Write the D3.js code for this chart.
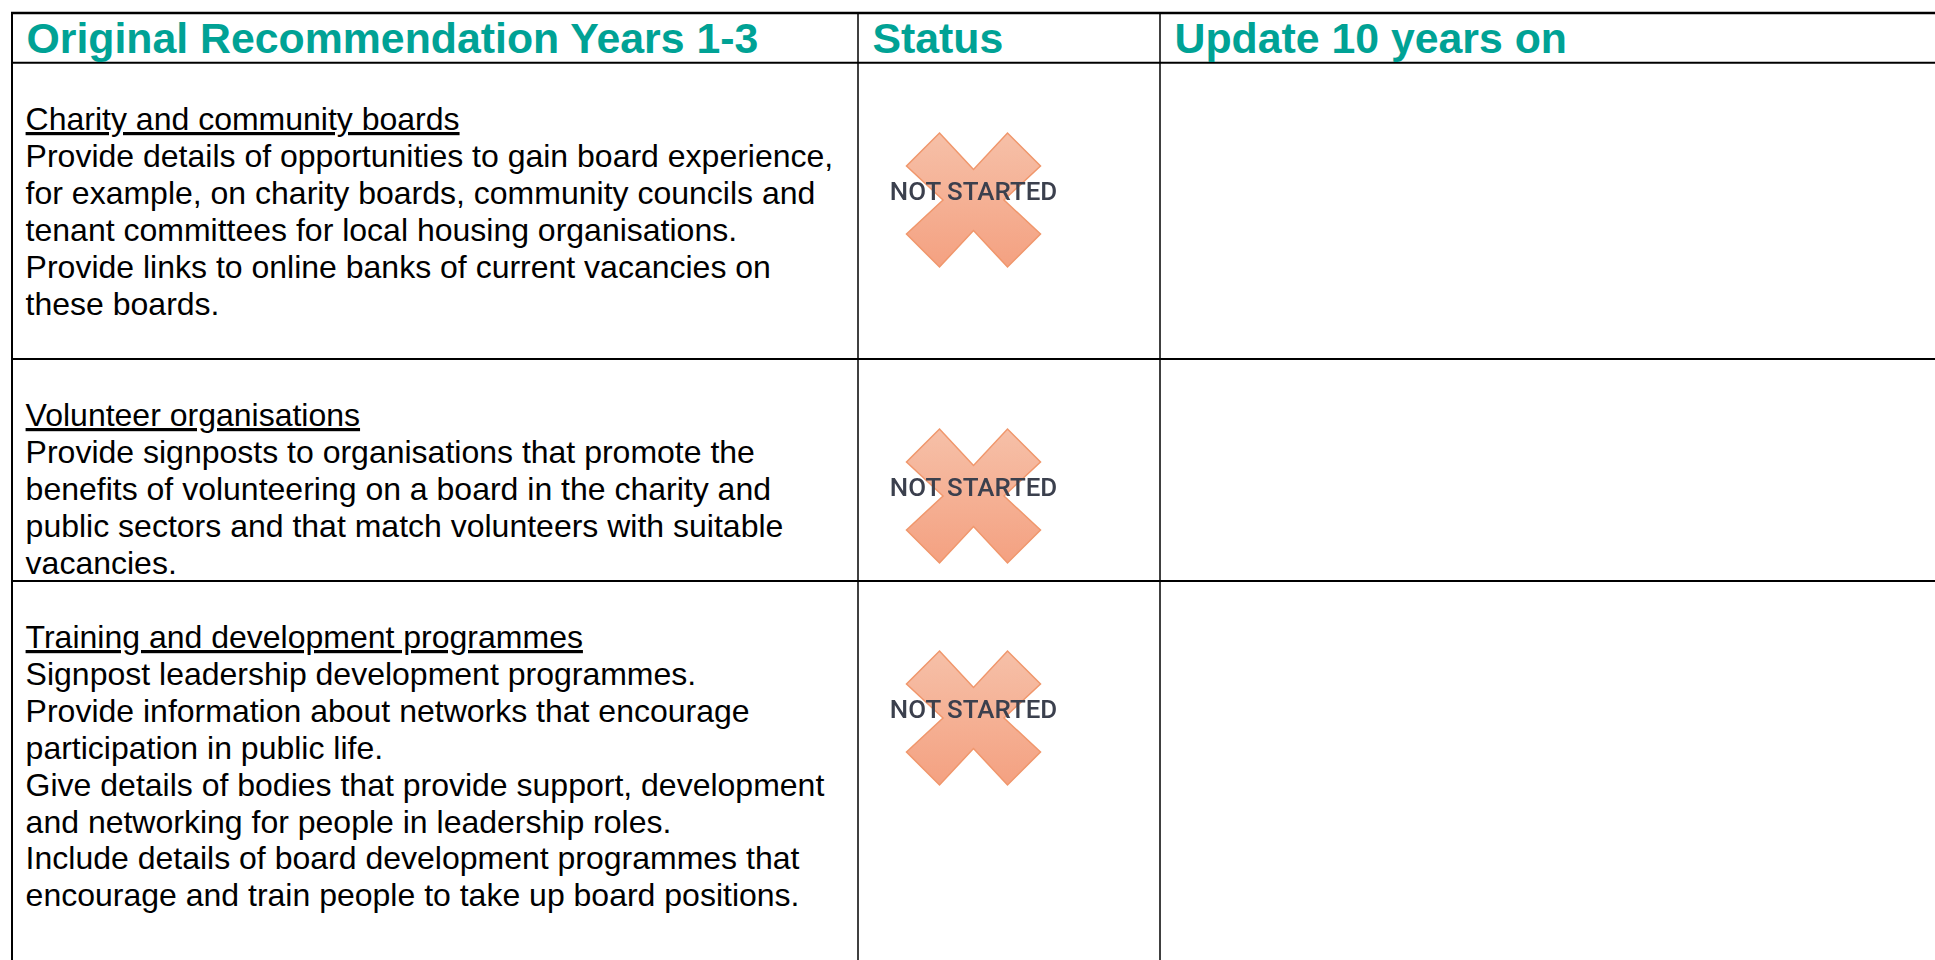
<!DOCTYPE html>
<html>
<head>
<meta charset="utf-8">
<script src="https://cdn.jsdelivr.net/npm/d3@7"></script>
<style>
body { margin: 0; background: #fff; }
svg { display: block; }
text { text-decoration-skip-ink: none; }
</style>
</head>
<body>
<div id="table_chart"></div>
<script>
const columns = ["Original Recommendation Years 1-3", "Status", "Update 10 years on"];
const rowTitles = ["Charity and community boards", "Volunteer organisations", "Training and development programmes"];
const rowLines = [
    ["Provide details of opportunities to gain board experience,",
     "for example, on charity boards, community councils and",
     "tenant committees for local housing organisations.",
     "Provide links to online banks of current vacancies on",
     "these boards."],
    ["Provide signposts to organisations that promote the",
     "benefits of volunteering on a board in the charity and",
     "public sectors and that match volunteers with suitable",
     "vacancies."],
    ["Signpost leadership development programmes.",
     "Provide information about networks that encourage",
     "participation in public life.",
     "Give details of bodies that provide support, development",
     "and networking for people in leadership roles.",
     "Include details of board development programmes that",
     "encourage and train people to take up board positions."]
];
const rowStatus = ["NOT STARTED", "NOT STARTED", "NOT STARTED"];

// layout
var width = 1935, height = 960;
var headTop = 13;
var lineHeight = 36.9;
var crossR = 67, crossIn = 30.5, crossEnd = 34;
var font = "'Liberation Sans', Arial, sans-serif";

var colX = d3.scaleOrdinal().domain(columns).range([12, 858, 1160]);
var rowY = d3.scaleOrdinal().domain(rowTitles).range([62.7, 359, 581]);
var titleBase = d3.scaleOrdinal().domain(rowTitles).range([130, 426, 648]);
var crossY = d3.scaleOrdinal().domain(rowTitles).range([200, 496, 718]);

var svg = d3.select("#table_chart")
    .append("svg")
    .attr("width", width)
    .attr("height", height);

var defs = svg.append("defs");
var grad = defs.append("linearGradient")
    .attr("id", "cross_fill")
    .attr("x1", 0).attr("y1", 0).attr("x2", 0).attr("y2", 1);
grad.append("stop").attr("offset", "0%").attr("stop-color", "#f6c0a8");
grad.append("stop").attr("offset", "100%").attr("stop-color", "#f4a181");
defs.append("filter").attr("id", "soft")
    .append("feGaussianBlur").attr("stdDeviation", 0.6);

// grid lines
svg.append("g").selectAll("line")
    .data(columns)
    .join("line")
    .attr("x1", function (d) { return colX(d); })
    .attr("x2", function (d) { return colX(d); })
    .attr("y1", headTop)
    .attr("y2", height)
    .attr("stroke", "#000")
    .attr("stroke-width", function (d, i) { return i == 0 ? 2 : 1.5; });
svg.append("line")
    .attr("x1", colX(columns[0]) - 1).attr("x2", width)
    .attr("y1", headTop).attr("y2", headTop)
    .attr("stroke", "#000").attr("stroke-width", 2.5);
svg.append("g").selectAll("line")
    .data(rowTitles)
    .join("line")
    .attr("x1", colX(columns[0]) - 1)
    .attr("x2", width)
    .attr("y1", function (d) { return rowY(d); })
    .attr("y2", function (d) { return rowY(d); })
    .attr("stroke", "#000")
    .attr("stroke-width", 2);

// header
svg.append("g").selectAll("text")
    .data(columns)
    .join("text")
    .attr("x", function (d) { return colX(d) + 14.5; })
    .attr("y", 53)
    .attr("font-family", font)
    .attr("font-weight", "bold")
    .attr("font-size", 42.8)
    .attr("fill", "#00a295")
    .text(function (d) { return d; });

// rows
rowTitles.forEach(function (title, i) {
    var g = svg.append("g")
        .attr("font-family", font)
        .attr("font-size", 32)
        .attr("fill", "#000");
    var base = titleBase(title);
    var textX = 25.6;
    g.append("text")
        .attr("x", textX)
        .attr("y", base)
        .attr("text-decoration", "underline")
        .text(title);
    g.selectAll(".body")
        .data(rowLines[i])
        .join("text")
        .attr("class", "body")
        .attr("x", textX)
        .attr("y", function (d, j) { return base + (j + 1) * lineHeight; })
        .text(function (d) { return d; });

    // status cross
    var pts = [[-crossEnd, -crossR], [0, -crossIn], [crossEnd, -crossR], [crossR, -crossEnd], [crossIn, 0],
               [crossR, crossEnd], [crossEnd, crossR], [0, crossIn], [-crossEnd, crossR], [-crossR, crossEnd],
               [-crossIn, 0], [-crossR, -crossEnd]];
    var s = svg.append("g").attr("transform", "translate(973.5," + crossY(title) + ")");
    s.append("path")
        .attr("d", d3.line()(pts) + "Z")
        .attr("fill", "url(#cross_fill)")
        .attr("stroke", "#f0976c")
        .attr("stroke-width", 1.5)
        .attr("filter", "url(#soft)");
    s.append("text")
        .attr("text-anchor", "middle")
        .attr("y", 0)
        .attr("font-family", "Roboto, sans-serif")
        .attr("font-weight", 500)
        .attr("font-size", 25.9)
        .attr("fill", "#3b3f4e")
        .attr("filter", "url(#soft)")
        .text(rowStatus[i]);
});
</script>
</body>
</html>
